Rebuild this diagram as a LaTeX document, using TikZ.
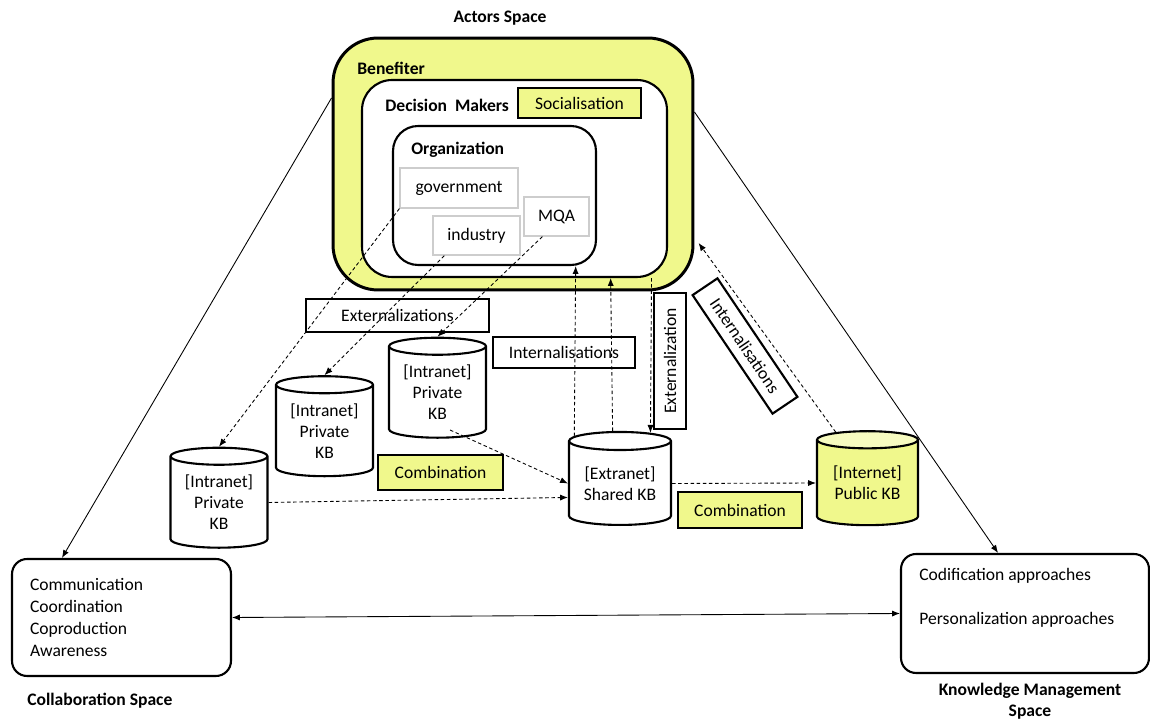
\documentclass[tikz,border=0pt]{standalone}
\usepackage{fontspec}
\setmainfont{Carlito}
\usetikzlibrary{shapes.geometric,arrows.meta}

\definecolor{paleyellow}{RGB}{240,248,140}
\definecolor{lightframe}{RGB}{205,205,205}

\begin{document}
\begin{tikzpicture}[x=0.02cm,y=-0.02cm,font=\normalsize,
    >={Latex[length=4.5pt,width=3.5pt]},
    actorbox/.style={draw,line width=1.2pt,rounded corners=#1},
    tagbox/.style={draw,line width=1.2pt,inner sep=0pt},
    yellowtag/.style={tagbox,fill=paleyellow},
    memberbox/.style={draw=lightframe,line width=0.7pt,inner sep=0pt},
    kb/.style={cylinder,shape border rotate=90,aspect=0.25,draw,line width=1.2pt,
        fill=white,align=center,inner sep=0pt},
    flow/.style={dash pattern=on 2pt off 1.5pt,line width=0.5pt,->},
    link/.style={line width=0.5pt,->},
    heading/.style={font=\bfseries,inner sep=0pt}]
  \useasboundingbox (0,0) rectangle (1150,722);

  \node[heading] (actors) at (500,18) {Actors Space};
  \node[actorbox=0.9cm,line width=1.7pt,fill=paleyellow,minimum width=7.2cm,minimum height=5.04cm] (benefiter) at (513,164) {};
  \node[heading,anchor=west] (benefiterlabel) at (357,68) {Benefiter};
  \node[actorbox=0.6cm,fill=white,minimum width=6.1cm,minimum height=3.94cm] (decision) at (514.5,178.5) {};
  \node[heading,anchor=west] (decisionlabel) at (385,105) {Decision\ \ Makers};
  \node[yellowtag,minimum width=2.46cm,minimum height=0.6cm] (socialisation) at (579.5,103) {Socialisation};
  \node[actorbox=0.5cm,minimum width=4.06cm,minimum height=2.78cm] (organization) at (494.5,195.5) {};
  \node[heading,anchor=west] (orglabel) at (411,150) {Organization};
  \node[memberbox,minimum width=2.36cm,minimum height=0.8cm] (government) at (459,188) {government};
  \node[memberbox,minimum width=1.74cm,minimum height=0.78cm] (industry) at (476.5,235.5) {industry};
  \node[memberbox,minimum width=1.3cm,minimum height=0.78cm] (mqa) at (556.5,216.5) {MQA};

  \node[tagbox,minimum width=3.66cm,minimum height=0.66cm] (externalizations) at (397.5,315.5) {Externalizations};
  \node[tagbox,minimum width=2.84cm,minimum height=0.62cm] (internalisations) at (564,352.5) {Internalisations};
  \node[tagbox,rotate=90,minimum width=2.72cm,minimum height=0.64cm] (externalization) at (670,361) {Externalization};
  \node[tagbox,rotate=-56,minimum width=2.86cm,minimum height=0.6cm] (internalisationsB) at (745,346) {Internalisations};
  \node[yellowtag,minimum width=2.5cm,minimum height=0.7cm] (combinationA) at (440.5,472.5) {Combination};
  \node[yellowtag,minimum width=2.48cm,minimum height=0.72cm] (combinationB) at (740,510) {Combination};

  \foreach \name/\x/\y in {kbA/219/502.5,kbB/324.5/431,kbC/437.5/392.5}
    \node[kb,minimum width=1.94cm,minimum height=2cm] (\name) at (\x,\y) {[Intranet]\\Private\\KB};
  \node[kb,minimum width=2.04cm,minimum height=1.86cm] (extranet) at (620,483.5) {[Extranet]\\Shared KB};
  \node[kb,fill=none,cylinder uses custom fill,cylinder body fill=paleyellow,cylinder end fill=paleyellow!55,
    minimum width=2.02cm,minimum height=1.88cm] (internet) at (867.5,483) {[Internet]\\Public KB};

  \node[actorbox=0.3cm,minimum width=4.38cm,minimum height=2.34cm,text width=3.66cm,inner xsep=0.36cm,align=left] (collab) at (121.5,617.5)
    {Communication\\[0.6pt]Coordination\\[0.6pt]Coproduction\\[0.6pt]Awareness};
  \node[heading,anchor=west] (collabtitle) at (27,701) {Collaboration Space};
  \node[actorbox=0.3cm,minimum width=4.96cm,minimum height=2.38cm] (km) at (1025,613.5) {};
  \node[anchor=west,align=left,inner sep=0pt] (kmtext) at (919,598) {Codification approaches\\[13pt]Personalization approaches};
  \node[heading,align=center] (kmtitle) at (1030,701) {Knowledge Management\\Space};

  \draw[link] (benefiter.160) -- (collab.135);
  \draw[link] (benefiter.16) -- (km.114);
  \draw[link,<->] (collab.east) -- (km.west);

  \draw[flow] (government.south west) -- (kbA.north);
  \draw[flow] (industry.212) -- (kbB.north);
  \draw[flow] (mqa.235) -- (kbC.north);
  \coordinate (kbCtail) at (450,430);
  \draw[flow] (kbCtail) -- (extranet.west);
  \draw[flow] (kbA.east) -- (extranet.195);
  \draw[flow] (extranet.east) -- (internet.west);
  \draw[flow] (extranet.134) -- (organization.-41);
  \draw[flow] (extranet.98) -- (decision.-46);
  \draw[flow] (decision.-36) -- (extranet.59);
  \draw[flow,shorten >=4pt] (internet.122) -- (benefiter.-22);
\end{tikzpicture}
\end{document}
